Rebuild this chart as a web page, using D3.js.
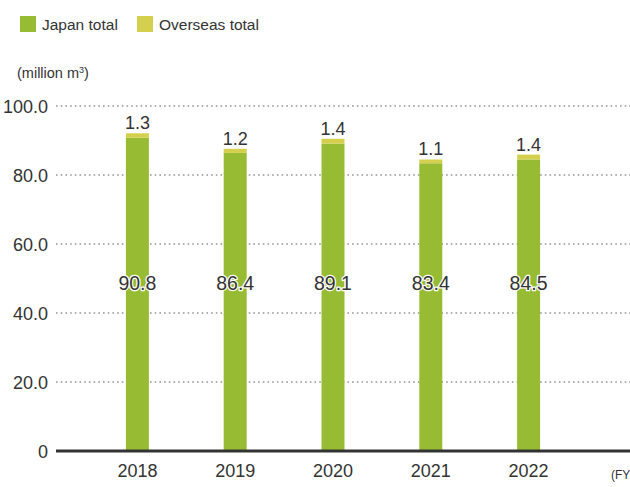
<!DOCTYPE html>
<html><head><meta charset="utf-8">
<script src="https://cdn.jsdelivr.net/npm/d3@7"></script>
<style>
html,body{margin:0;padding:0;background:#fff;}
svg{display:block;font-family:"Liberation Sans",Arial,Helvetica,sans-serif;}
</style></head>
<body>
<svg id="chart" width="630" height="487"></svg>
<script>
const years = ["2018","2019","2020","2021","2022"];
const japanTotal = [90.8, 86.4, 89.1, 83.4, 84.5];
const overseasTotal = [1.3, 1.2, 1.4, 1.1, 1.4];
const yTicks = [0, 20, 40, 60, 80, 100];
const seriesNames = ["Japan total", "Overseas total"];
const colors = ["#97bc34", "#d4d04d"];

const svg = d3.select("#chart");
const textColor = "#333";

const y = d3.scaleLinear().domain([0, 100]).range([451, 106]);
const x = d3.scaleBand().domain(years).range([88.5, 577.5])
  .paddingInner(0.765).paddingOuter(0.3825);

// gridlines
svg.append("g").selectAll("line").data(yTicks.filter(d => d > 0)).join("line")
  .attr("x1", 56).attr("x2", 630)
  .attr("y1", d => y(d)).attr("y2", d => y(d))
  .attr("stroke", "#b0b0b0").attr("stroke-width", 2)
  .attr("stroke-dasharray", "1.6,3.1");

// y labels
svg.append("g").selectAll("text").data(yTicks).join("text")
  .attr("x", 48).attr("y", d => y(d) + 6.5)
  .attr("text-anchor", "end").attr("font-size", 18).attr("fill", textColor)
  .text(d => d === 0 ? "0" : d3.format(".1f")(d));

const data = years.map((yr, i) => ({yr, jp: japanTotal[i], ov: overseasTotal[i]}));

// bars
const g = svg.append("g");
g.selectAll("rect.jp").data(data).join("rect").attr("class", "jp")
  .attr("x", d => x(d.yr)).attr("width", x.bandwidth())
  .attr("y", d => y(d.jp)).attr("height", d => y(0) - y(d.jp))
  .attr("fill", colors[0]);
g.selectAll("rect.ov").data(data).join("rect").attr("class", "ov")
  .attr("x", d => x(d.yr)).attr("width", x.bandwidth())
  .attr("y", d => y(d.jp + d.ov)).attr("height", d => y(d.jp) - y(d.jp + d.ov))
  .attr("fill", colors[1]);

// baseline
svg.append("line").attr("x1", 56).attr("x2", 630).attr("y1", y(0)).attr("y2", y(0))
  .attr("stroke", "#333").attr("stroke-width", 3);

// overseas labels
g.selectAll("text.ov").data(data).join("text").attr("class", "ov")
  .attr("x", d => x(d.yr) + x.bandwidth() / 2).attr("y", d => y(d.jp + d.ov) - 4)
  .attr("text-anchor", "middle").attr("font-size", 18).attr("fill", textColor)
  .text(d => d3.format(".1f")(d.ov));

// japan labels
g.selectAll("text.jp").data(data).join("text").attr("class", "jp")
  .attr("x", d => x(d.yr) + x.bandwidth() / 2).attr("y", y(50) + 11)
  .attr("text-anchor", "middle").attr("font-size", 19.5).attr("fill", textColor)
  .attr("stroke", "#fff").attr("stroke-width", 2.5).attr("paint-order", "stroke")
  .attr("stroke-linejoin", "round")
  .text(d => d3.format(".1f")(d.jp));

// x labels
svg.append("g").selectAll("text").data(years).join("text")
  .attr("x", d => x(d) + x.bandwidth() / 2).attr("y", 477)
  .attr("text-anchor", "middle").attr("font-size", 18).attr("fill", textColor)
  .text(d => d);

svg.append("text").attr("x", 611).attr("y", 479).attr("font-size", 12)
  .attr("fill", textColor).text("(FY)");

// unit label
const unit = svg.append("text").attr("x", 17).attr("y", 78).attr("font-size", 14.5).attr("fill", textColor);
unit.append("tspan").text("(million m");
unit.append("tspan").attr("font-size", 9).attr("dy", -5).text("3");
unit.append("tspan").attr("dy", 5).text(")");

// legend
const legX = [20, 137];
const leg = svg.append("g").selectAll("g").data(seriesNames).join("g")
  .attr("transform", (d, i) => `translate(${legX[i]},16)`);
leg.append("rect").attr("width", 16).attr("height", 16).attr("fill", (d, i) => colors[i]);
leg.append("text").attr("x", 22).attr("y", 13.5).attr("font-size", 15.5).attr("fill", textColor).text(d => d);
</script>
</body></html>
